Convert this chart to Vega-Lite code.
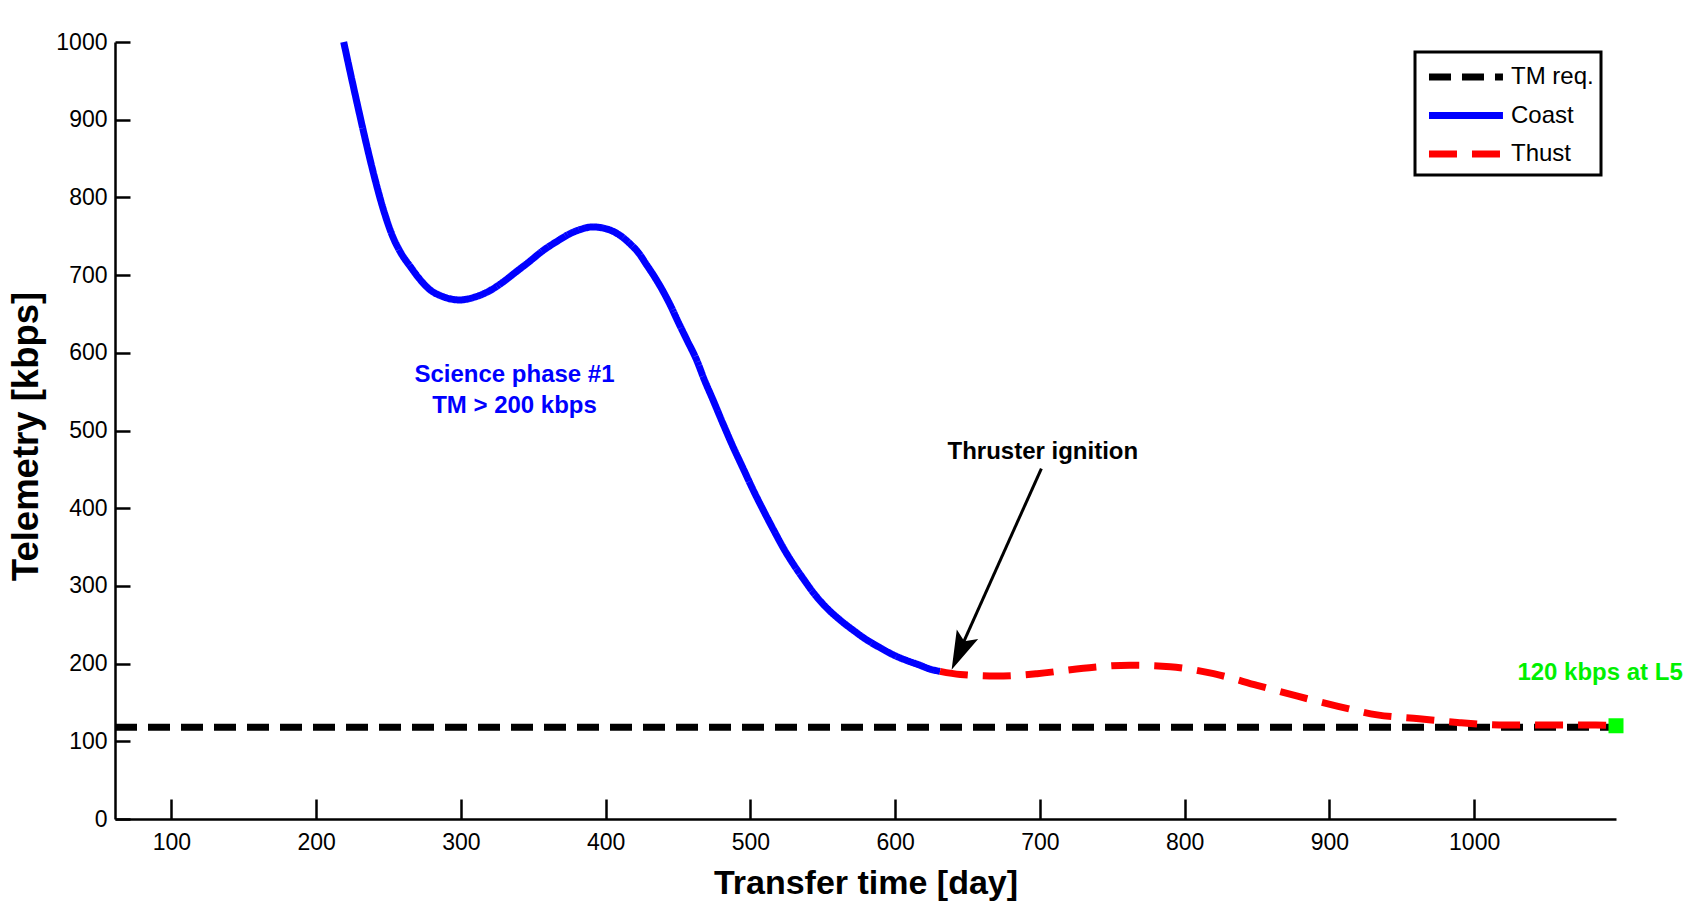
{
  "$schema": "https://vega.github.io/schema/vega-lite/v6.json",
  "width": 1501,
  "height": 777,
  "autosize": {"type": "none"},
  "padding": {"left": 115, "top": 42, "right": 81, "bottom": 88},
  "background": "white",
  "datasets": {
    "curve": [
      {"day": 61, "tm": 118, "series": "TM req."},
      {"day": 1098, "tm": 118, "series": "TM req."},
      {"day": 219, "tm": 1000, "series": "Coast"},
      {"day": 224, "tm": 957, "series": "Coast"},
      {"day": 229, "tm": 915, "series": "Coast"},
      {"day": 234, "tm": 874, "series": "Coast"},
      {"day": 240, "tm": 828, "series": "Coast"},
      {"day": 246, "tm": 787, "series": "Coast"},
      {"day": 253, "tm": 749, "series": "Coast"},
      {"day": 259, "tm": 727, "series": "Coast"},
      {"day": 265, "tm": 711, "series": "Coast"},
      {"day": 271, "tm": 696, "series": "Coast"},
      {"day": 278, "tm": 682, "series": "Coast"},
      {"day": 288, "tm": 672, "series": "Coast"},
      {"day": 299, "tm": 668, "series": "Coast"},
      {"day": 310, "tm": 672, "series": "Coast"},
      {"day": 320, "tm": 680, "series": "Coast"},
      {"day": 329, "tm": 691, "series": "Coast"},
      {"day": 338, "tm": 704, "series": "Coast"},
      {"day": 347, "tm": 717, "series": "Coast"},
      {"day": 357, "tm": 732, "series": "Coast"},
      {"day": 366, "tm": 743, "series": "Coast"},
      {"day": 375, "tm": 753, "series": "Coast"},
      {"day": 383, "tm": 759, "series": "Coast"},
      {"day": 391, "tm": 762, "series": "Coast"},
      {"day": 397, "tm": 761, "series": "Coast"},
      {"day": 403, "tm": 758, "series": "Coast"},
      {"day": 410, "tm": 751, "series": "Coast"},
      {"day": 417, "tm": 740, "series": "Coast"},
      {"day": 423, "tm": 728, "series": "Coast"},
      {"day": 428, "tm": 714, "series": "Coast"},
      {"day": 434, "tm": 697, "series": "Coast"},
      {"day": 440, "tm": 678, "series": "Coast"},
      {"day": 445, "tm": 660, "series": "Coast"},
      {"day": 450, "tm": 640, "series": "Coast"},
      {"day": 456, "tm": 617, "series": "Coast"},
      {"day": 463, "tm": 590, "series": "Coast"},
      {"day": 468, "tm": 566, "series": "Coast"},
      {"day": 474, "tm": 540, "series": "Coast"},
      {"day": 481, "tm": 509, "series": "Coast"},
      {"day": 488, "tm": 479, "series": "Coast"},
      {"day": 495, "tm": 451, "series": "Coast"},
      {"day": 502, "tm": 423, "series": "Coast"},
      {"day": 509, "tm": 397, "series": "Coast"},
      {"day": 516, "tm": 372, "series": "Coast"},
      {"day": 523, "tm": 348, "series": "Coast"},
      {"day": 530, "tm": 327, "series": "Coast"},
      {"day": 537, "tm": 308, "series": "Coast"},
      {"day": 544, "tm": 290, "series": "Coast"},
      {"day": 552, "tm": 273, "series": "Coast"},
      {"day": 562, "tm": 256, "series": "Coast"},
      {"day": 571, "tm": 243, "series": "Coast"},
      {"day": 580, "tm": 231, "series": "Coast"},
      {"day": 590, "tm": 220, "series": "Coast"},
      {"day": 599, "tm": 211, "series": "Coast"},
      {"day": 608, "tm": 204, "series": "Coast"},
      {"day": 617, "tm": 198, "series": "Coast"},
      {"day": 624, "tm": 193, "series": "Coast"},
      {"day": 631, "tm": 190, "series": "Coast"},
      {"day": 631, "tm": 190, "series": "Thust"},
      {"day": 645, "tm": 186, "series": "Thust"},
      {"day": 670, "tm": 184, "series": "Thust"},
      {"day": 698, "tm": 187, "series": "Thust"},
      {"day": 730, "tm": 194, "series": "Thust"},
      {"day": 762, "tm": 198, "series": "Thust"},
      {"day": 790, "tm": 196, "series": "Thust"},
      {"day": 820, "tm": 187, "series": "Thust"},
      {"day": 850, "tm": 172, "series": "Thust"},
      {"day": 878, "tm": 158, "series": "Thust"},
      {"day": 906, "tm": 145, "series": "Thust"},
      {"day": 933, "tm": 134, "series": "Thust"},
      {"day": 962, "tm": 129, "series": "Thust"},
      {"day": 990, "tm": 124, "series": "Thust"},
      {"day": 1022, "tm": 121, "series": "Thust"},
      {"day": 1052, "tm": 121, "series": "Thust"},
      {"day": 1084, "tm": 121, "series": "Thust"},
      {"day": 1098, "tm": 120, "series": "Thust"}
    ],
    "notes": [
      {"day": 337, "tm": 572, "label": "Science phase #1", "kind": "science"},
      {"day": 337, "tm": 531, "label": "TM > 200 kbps", "kind": "science"},
      {"day": 702, "tm": 472, "label": "Thruster ignition", "kind": "thruster"},
      {"day": 1087, "tm": 188, "label": "120 kbps at L5", "kind": "l5"}
    ],
    "arrow": [
      {"day": 701, "tm": 451, "day2": 643, "tm2": 210, "tipday": 639, "tiptm": 192}
    ],
    "end": [
      {"day": 1098, "tm": 120}
    ]
  },
  "layer": [
    {
      "data": {"name": "curve"},
      "mark": {"type": "line", "strokeWidth": 7, "interpolate": "monotone", "strokeCap": "butt"},
      "encoding": {
        "x": {
          "field": "day", "type": "quantitative",
          "scale": {"domain": [61, 1098], "nice": false, "zero": false},
          "axis": {
            "values": [100, 200, 300, 400, 500, 600, 700, 800, 900, 1000],
            "format": "d",
            "title": "Transfer time [day]",
            "tickSize": -20,
            "labelPadding": 32,
            "titleY": 74,
            "titleBaseline": "alphabetic"
          }
        },
        "y": {
          "field": "tm", "type": "quantitative",
          "scale": {"domain": [0, 1000], "nice": false},
          "axis": {
            "values": [0, 100, 200, 300, 400, 500, 600, 700, 800, 900, 1000],
            "format": "d",
            "title": "Telemetry [kbps]",
            "titleFontSize": 36.5,
            "tickSize": -15,
            "labelPadding": 23,
            "titleX": -78,
            "titleY": 394,
            "titleBaseline": "alphabetic"
          }
        },
        "color": {
          "field": "series", "type": "nominal",
          "scale": {"domain": ["TM req.", "Coast", "Thust"], "range": ["#000000", "#0000ff", "#ff0000"]},
          "legend": {"title": " "}
        },
        "strokeDash": {
          "field": "series", "type": "nominal",
          "scale": {"domain": ["TM req.", "Coast", "Thust"], "range": [[22, 11], [1, 0], [28, 15]]},
          "legend": {"title": " "}
        }
      }
    },
    {
      "data": {"name": "arrow"},
      "mark": {"type": "rule", "color": "black", "strokeWidth": 3},
      "encoding": {
        "x": {"field": "day", "type": "quantitative"},
        "y": {"field": "tm", "type": "quantitative"},
        "x2": {"field": "day2"},
        "y2": {"field": "tm2"}
      }
    },
    {
      "data": {"name": "arrow"},
      "mark": {"type": "point", "shape": "M0,0 L0.6,2 L0,1.6 L-0.6,2 Z", "size": 1521, "angle": 204, "filled": true, "color": "black", "opacity": 1},
      "encoding": {
        "x": {"field": "tipday", "type": "quantitative"},
        "y": {"field": "tiptm", "type": "quantitative"}
      }
    },
    {
      "data": {"name": "end"},
      "mark": {"type": "point", "shape": "square", "size": 225, "filled": true, "color": "#00ff00", "opacity": 1},
      "encoding": {
        "x": {"field": "day", "type": "quantitative"},
        "y": {"field": "tm", "type": "quantitative"}
      }
    },
    {
      "data": {"name": "notes"},
      "transform": [{"filter": "datum.kind === 'science'"}],
      "mark": {"type": "text", "fontSize": 24, "fontWeight": "bold", "color": "#0000ff", "align": "center", "baseline": "middle"},
      "encoding": {
        "x": {"field": "day", "type": "quantitative"},
        "y": {"field": "tm", "type": "quantitative"},
        "text": {"field": "label"}
      }
    },
    {
      "data": {"name": "notes"},
      "transform": [{"filter": "datum.kind === 'thruster'"}],
      "mark": {"type": "text", "fontSize": 24, "fontWeight": "bold", "color": "#000000", "align": "center", "baseline": "middle"},
      "encoding": {
        "x": {"field": "day", "type": "quantitative"},
        "y": {"field": "tm", "type": "quantitative"},
        "text": {"field": "label"}
      }
    },
    {
      "data": {"name": "notes"},
      "transform": [{"filter": "datum.kind === 'l5'"}],
      "mark": {"type": "text", "fontSize": 24, "fontWeight": "bold", "color": "#00f000", "align": "center", "baseline": "middle"},
      "encoding": {
        "x": {"field": "day", "type": "quantitative"},
        "y": {"field": "tm", "type": "quantitative"},
        "text": {"field": "label"}
      }
    }
  ],
  "config": {
    "font": "Liberation Sans",
    "view": {"stroke": null},
    "axis": {
      "grid": false,
      "domainColor": "#000000",
      "domainWidth": 2.5,
      "tickColor": "#000000",
      "tickWidth": 2.5,
      "labelFont": "Liberation Sans",
      "labelFontSize": 23,
      "labelColor": "#000000",
      "labelFlush": false,
      "labelOverlap": false,
      "titleFont": "Liberation Sans",
      "titleFontSize": 34,
      "titleFontWeight": "bold",
      "titleColor": "#000000"
    },
    "legend": {
      "orient": "none",
      "legendX": 1300,
      "legendY": 10,
      "strokeColor": "#000000",
      "strokeWidth": 3,
      "fillColor": "#ffffff",
      "padding": 7,
      "titleFontSize": 5,
      "titlePadding": 0,
      "symbolType": "M-0.65,0 L7.35,0",
      "symbolSize": 342,
      "symbolStrokeWidth": 7,
      "labelFont": "Liberation Sans",
      "labelFontSize": 24,
      "labelColor": "#000000",
      "labelOffset": 63,
      "rowPadding": 10.5
    }
  }
}
